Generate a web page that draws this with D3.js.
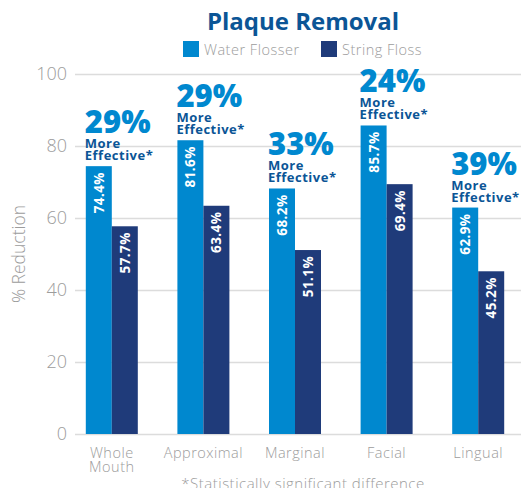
<!DOCTYPE html>
<html>
<head>
<meta charset="utf-8">
<script src="https://cdn.jsdelivr.net/npm/d3@7"></script>
<style>
  body { margin: 0; background: #fff; }
  svg { display: block; font-family: "Open Sans", sans-serif; }
</style>
</head>
<body>
<svg id="chart"></svg>
<script>
// data
const categories = ["Whole Mouth", "Approximal", "Marginal", "Facial", "Lingual"];
const seriesNames = ["Water Flosser", "String Floss"];
const waterFlosser = [74.4, 81.6, 68.2, 85.7, 62.9];
const stringFloss = [57.7, 63.4, 51.1, 69.4, 45.2];
const moreEffective = [29, 29, 33, 24, 39];
const yTicks = [0, 20, 40, 60, 80, 100];

const width = 521;
const height = 488;
const colors = ["#0088cf", "#1f3b7a"];
const gray = "#9c9c9c";

const svg = d3.select("#chart")
    .attr("width", width)
    .attr("height", height);

const y = d3.scaleLinear().domain([0, 100]).range([434, 74]);
const x0 = d3.scaleBand().domain(categories).range([66, 524]);
const x1 = d3.scaleBand().domain(seriesNames)
    .range([x0.bandwidth() / 2 - 26, x0.bandwidth() / 2 + 26]);

// title
svg.append("text")
    .attr("x", 303).attr("y", 30)
    .attr("text-anchor", "middle")
    .attr("font-size", 24).attr("font-weight", 700)
    .attr("fill", "#0b5596")
    .text("Plaque Removal");

// legend
const legendX = [183, 321];
const legend = svg.selectAll(".legend")
    .data(seriesNames)
    .enter().append("g")
    .attr("transform", (d, i) => "translate(" + legendX[i] + ",41)");
legend.append("rect")
    .attr("width", 16).attr("height", 16)
    .attr("fill", (d, i) => colors[i]);
legend.append("text")
    .attr("x", 21).attr("y", 14)
    .attr("font-size", 14.5).attr("font-weight", 300)
    .attr("letter-spacing", 0.5)
    .attr("fill", gray)
    .text(d => d);

// grid + y axis
const yAxis = svg.append("g")
    .attr("transform", "translate(75,0)")
    .call(d3.axisLeft(y).tickValues(yTicks).tickSize(-446).tickPadding(8));
yAxis.select(".domain").remove();
yAxis.selectAll(".tick line").attr("stroke", "#dcdcdc").attr("stroke-width", 1.5);
yAxis.selectAll(".tick text")
    .attr("font-size", 18).attr("font-weight", 300)
    .attr("font-family", "Open Sans, sans-serif")
    .attr("fill", gray);

svg.append("text")
    .attr("transform", "translate(25,254) rotate(-90)")
    .attr("text-anchor", "middle")
    .attr("font-size", 17.5).attr("font-weight", 300)
    .attr("fill", gray)
    .text("% Reduction");

// bars
const rows = categories.map((c, i) => ({
    cat: c,
    vals: [waterFlosser[i], stringFloss[i]],
    more: moreEffective[i]
}));

const group = svg.selectAll(".group")
    .data(rows)
    .enter().append("g")
    .attr("transform", d => "translate(" + x0(d.cat) + ",0)");

const bar = group.selectAll(".bar")
    .data(d => d.vals.map((v, i) => ({ name: seriesNames[i], v: v, i: i })))
    .enter().append("g");

bar.append("rect")
    .attr("x", d => x1(d.name))
    .attr("y", d => y(d.v))
    .attr("width", x1.bandwidth())
    .attr("height", d => y(0) - y(d.v))
    .attr("fill", d => colors[d.i]);

bar.append("text")
    .attr("transform", d => "translate(" + (x1(d.name) + x1.bandwidth() / 2 + 5) + "," + (y(d.v) + 6) + ") rotate(-90)")
    .attr("text-anchor", "end")
    .attr("font-size", 13.5).attr("font-weight", 700)
    .attr("letter-spacing", 0.4)
    .attr("fill", "#fff")
    .text(d => d.v.toFixed(1) + "%");

// "more effective" annotations above water flosser bar (one text block)
const note = group.append("text")
    .attr("transform", d => "translate(" + (x1(seriesNames[0]) - 1) + "," + y(d.vals[0]) + ")")
    .attr("font-weight", 700);
note.append("tspan")
    .attr("x", 0).attr("y", -33)
    .attr("font-size", 31).attr("font-weight", 800)
    .attr("fill", colors[0])
    .text(d => d.more + "%");
note.append("tspan")
    .attr("x", 0).attr("y", -18)
    .attr("font-size", 13).attr("letter-spacing", 0.5)
    .attr("fill", "#0b5596")
    .text("More");
note.append("tspan")
    .attr("x", 0).attr("y", -6)
    .attr("font-size", 13).attr("letter-spacing", 0.5)
    .attr("fill", "#0b5596")
    .text("Effective*");

// x labels
const xLab = group.append("text")
    .attr("text-anchor", "middle")
    .attr("font-size", 14.5).attr("font-weight", 300)
    .attr("letter-spacing", 0.5)
    .attr("fill", gray);
xLab.selectAll("tspan")
    .data(d => d.cat.split(" "))
    .enter().append("tspan")
    .attr("x", x0.bandwidth() / 2)
    .attr("y", (d, i) => 458 + i * 14)
    .text(d => d);

// footnote
svg.append("text")
    .attr("x", 303).attr("y", 489)
    .attr("text-anchor", "middle")
    .attr("font-size", 15).attr("font-weight", 300)
    .attr("letter-spacing", 0.5)
    .attr("fill", gray)
    .text("*Statistically significant difference");
</script>
</body>
</html>
